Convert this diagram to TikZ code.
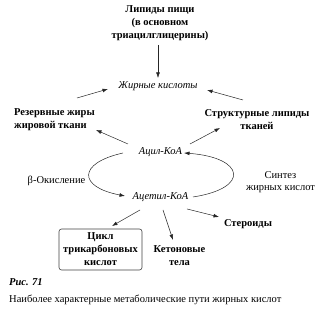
\documentclass[tikz,border=0pt]{standalone}
\usepackage{fontspec}
\setmainfont{Liberation Serif}
\usetikzlibrary{arrows.meta,calc}
\begin{document}
\begin{tikzpicture}[x=1pt,y=1pt,
  every node/.style={inner sep=1pt, font=\fontsize{10.5}{12.5}\selectfont},
  bnode/.style={font=\fontsize{10.5}{13}\selectfont\bfseries, align=center},
  inode/.style={font=\fontsize{10.5}{12.5}\selectfont\itshape},
  rnode/.style={align=center},
  arr/.style={-{Latex[length=5.5pt,width=3.8pt]}, line width=0.5pt, draw=black!85},
  tcabox/.style={draw=black!75, line width=0.6pt, rounded corners=2.5pt, minimum width=83pt, minimum height=41pt, font=\fontsize{10.5}{13}\selectfont\bfseries, align=center}]
\useasboundingbox (0,0) rectangle (322,320);
\node[bnode] (food) at (160,297) {Липиды пищи\\(в основном\\триацилглицерины)};
\node[inode] (fa) at (158,234) {Жирные кислоты};
\node[bnode, align=left, anchor=north west] (reserve) at (13,213) {Резервные жиры\\жировой ткани};
\node[bnode] (struct) at (257,200) {Структурные липиды\\тканей};
\node[inode] (acyl) at (160.5,168) {Ацил-КоА};
\node[inode] (acetyl) at (160.5,123) {Ацетил-КоА};
\node (beta) at (56.5,139) {β-Окисление};
\node[rnode] (synth) at (280.5,138) {Синтез\\жирных кислот};
\node[tcabox] (tca) at (100.5,70.5) {Цикл\\трикарбоновых\\кислот};
\node[bnode] (keto) at (179.5,64.5) {Кетоновые\\тела};
\node[bnode] (ster) at (248,96) {Стероиды};
\node[font=\fontsize{10.5}{12.5}\selectfont\bfseries\itshape, anchor=west] (fig) at (8,37.5) {Рис. 71};
\node[anchor=west] (cap) at (8,20.5) {Наиболее характерные метаболические пути жирных кислот};

\draw[arr] ($(food)+(-2,-22)$) -- ($(fa)+(0,8)$);
\draw[arr] ($(reserve.north west)+(64,9)$) -- ($(fa)+(-50,-3)$);
\draw[arr] ($(struct)+(-14,20)$) -- ($(fa)+(49,-4)$);
\draw[arr] ($(acyl)+(-32.5,8)$) -- ($(reserve.north west)+(83,-23)$);
\draw[arr] ($(acyl)+(29.5,8)$) -- ($(struct)+(-37,-8)$);
\draw[arr] ($(acyl)+(-37.5,-1)$) .. controls (77.7,156.9) and (77.7,133.1) .. ($(acetyl)+(-35.5,1)$);
\draw[arr] ($(acetyl)+(32.5,0)$) .. controls (250.7,131.9) and (244.8,162.5) .. ($(acyl)+(23.5,-1)$);
\draw[arr] ($(acetyl)+(-20.5,-13)$) -- ($(tca)+(11.5,23.5)$);
\draw[arr] ($(acetyl)+(2.5,-13)$) -- ($(keto)+(-6.5,15.5)$);
\draw[arr] ($(acetyl)+(26.5,-12)$) -- ($(ster)+(-29,7)$);
\end{tikzpicture}
\end{document}
